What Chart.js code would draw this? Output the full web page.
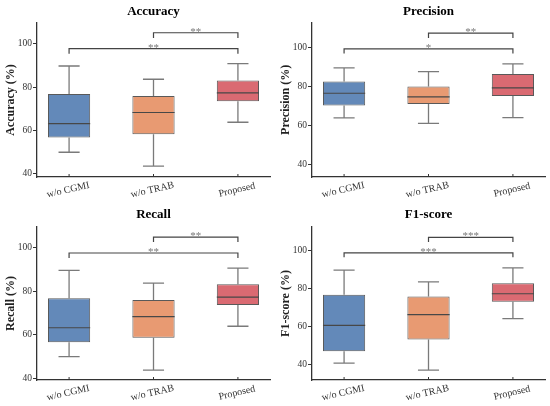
<!DOCTYPE html>
<html>
<head>
<meta charset="utf-8">
<script src="https://cdn.jsdelivr.net/npm/chart.js@4"></script>
<style>
  html, body { margin: 0; padding: 0; background: #fff; }
  #grid { width: 550px; height: 406px; display: grid; grid-template-columns: 275px 275px; grid-template-rows: 203px 203px; }
  canvas { display: block; }
</style>
</head>
<body>
<div id="grid">
  <canvas id="chartAccuracy" width="275" height="203"></canvas>
  <canvas id="chartPrecision" width="275" height="203"></canvas>
  <canvas id="chartRecall" width="275" height="203"></canvas>
  <canvas id="chartF1" width="275" height="203"></canvas>
</div>
<script>
// box stats per model: [min, q1, median, q3, max]
const categories = ["w/o CGMI", "w/o TRAB", "Proposed"];
const accuracyStats = [[50.0, 56.8, 63.2, 76.8, 89.7], [43.6, 58.3, 68.3, 75.9, 83.6], [63.8, 73.5, 77.3, 83.0, 90.8]];
const precisionStats = [[63.8, 70.2, 76.5, 82.5, 89.5], [61.0, 71.0, 74.6, 80.0, 87.6], [64.0, 75.1, 79.2, 86.4, 91.6]];
const recallStats = [[50.0, 56.6, 63.2, 76.7, 89.5], [43.8, 58.6, 68.3, 75.9, 83.6], [63.9, 73.6, 77.2, 83.1, 90.5]];
const f1Stats = [[40.5, 46.8, 60.5, 76.7, 89.7], [36.8, 53.0, 66.2, 75.8, 83.5], [64.0, 73.0, 77.2, 82.8, 90.9]];
// significance: [w/o CGMI vs Proposed, w/o TRAB vs Proposed]
const accuracyStars = ["**", "**"];
const precisionStars = ["*", "**"];
const recallStars = ["**", "**"];
const f1Stars = ["***", "***"];
const yTicks = [40, 60, 80, 100];

const boxColors = ["#6389b9", "#e89a72", "#da6a72"];
const serif = "'Liberation Serif', 'Times New Roman', serif";

function makeExtras(panel) {
    return {
        id: "boxExtras",
        beforeDatasetsDraw(chart) {
            const { ctx, scales: { x, y } } = chart;
            const meta = chart.getDatasetMeta(0);
            ctx.save();
            ctx.strokeStyle = "#7a7a7a";
            ctx.lineWidth = 1.3;
            panel.stats.forEach((s, i) => {
                const { width } = meta.data[i].getProps(["width"], true);
                const cx = x.getPixelForValue(i);
                const cap = width / 4;
                ctx.beginPath();
                ctx.moveTo(cx, y.getPixelForValue(s[4]));
                ctx.lineTo(cx, y.getPixelForValue(s[3]));
                ctx.moveTo(cx, y.getPixelForValue(s[1]));
                ctx.lineTo(cx, y.getPixelForValue(s[0]));
                ctx.moveTo(cx - cap, y.getPixelForValue(s[4]));
                ctx.lineTo(cx + cap, y.getPixelForValue(s[4]));
                ctx.moveTo(cx - cap, y.getPixelForValue(s[0]));
                ctx.lineTo(cx + cap, y.getPixelForValue(s[0]));
                ctx.stroke();
            });
            ctx.restore();
        },
        afterDatasetsDraw(chart) {
            const { ctx, chartArea, scales: { x, y } } = chart;
            const meta = chart.getDatasetMeta(0);
            ctx.save();
            // medians
            ctx.strokeStyle = "#474747";
            ctx.lineWidth = 1.2;
            panel.stats.forEach((s, i) => {
                const { width } = meta.data[i].getProps(["width"], true);
                const cx = x.getPixelForValue(i);
                const my = y.getPixelForValue(s[2]);
                ctx.beginPath();
                ctx.moveTo(cx - width / 2, my);
                ctx.lineTo(cx + width / 2, my);
                ctx.stroke();
            });
            // inward x tick marks
            ctx.strokeStyle = "#333";
            ctx.lineWidth = 1;
            categories.forEach((c, i) => {
                const cx = x.getPixelForValue(i);
                ctx.beginPath();
                ctx.moveTo(cx, chartArea.bottom);
                ctx.lineTo(cx, chartArea.bottom - 3);
                ctx.stroke();
            });
            // significance brackets
            const pairs = [[0, 2, panel.brackets[0]], [1, 2, panel.brackets[1]]];
            pairs.forEach(([a, b, lv], k) => {
                const xa = x.getPixelForValue(a);
                const xb = x.getPixelForValue(b);
                const yl = y.getPixelForValue(lv[0]);
                const yd = y.getPixelForValue(lv[1]);
                ctx.strokeStyle = "#444";
                ctx.lineWidth = 1.2;
                ctx.beginPath();
                ctx.moveTo(xa, yd);
                ctx.lineTo(xa, yl);
                ctx.lineTo(xb, yl);
                ctx.lineTo(xb, yd);
                ctx.stroke();
                ctx.fillStyle = "#777";
                ctx.font = "11px " + serif;
                ctx.textAlign = "center";
                ctx.textBaseline = "alphabetic";
                ctx.fillText(panel.stars[k], (xa + xb) / 2, yl + 2);
            });
            // rotated category labels
            ctx.fillStyle = "#333";
            ctx.font = "10px " + serif;
            ctx.textAlign = "center";
            ctx.textBaseline = "middle";
            categories.forEach((c, i) => {
                const cx = x.getPixelForValue(i);
                ctx.save();
                ctx.translate(cx - 1, chartArea.bottom + 13);
                ctx.rotate(-13 * Math.PI / 180);
                ctx.fillText(c, 0, 0);
                ctx.restore();
            });
            ctx.restore();
        },
    };
}

function initBoxChart(canvasId, panel) {
    const el = document.getElementById(canvasId);
    if (!el) return;

    new Chart(el, {
        type: "bar",
        data: {
            datasets: [{
                data: panel.stats.map((s, i) => ({ x: i, y: [s[1], s[3]] })),
                backgroundColor: boxColors,
                borderColor: "#595959",
                borderWidth: 1,
                borderSkipped: false,
                barPercentage: 0.5,
                categoryPercentage: 1,
            }],
        },
        options: {
            responsive: false,
            animation: false,
            layout: { padding: { left: 0, right: 5, top: 0, bottom: 0 } },
            plugins: {
                legend: { display: false },
                tooltip: { enabled: false },
                title: {
                    display: true,
                    fullSize: false,
                    text: panel.title,
                    color: "#000",
                    font: { family: serif, size: 13, weight: "bold" },
                    padding: { top: 4, bottom: panel.titleGap },
                },
            },
            scales: {
                x: {
                    type: "linear",
                    offset: false,
                    min: -0.38,
                    max: 2.38,
                    afterBuildTicks: (scale) => { scale.ticks = categories.map((c, i) => ({ value: i })); },
                    afterFit: (scale) => { scale.height = 26; },
                    ticks: { display: false },
                    grid: { display: false, offset: false },
                    border: { display: true, color: "#333", width: 1.3 },
                },
                y: {
                    min: panel.yMin,
                    max: panel.yMax,
                    afterBuildTicks: (scale) => { scale.ticks = yTicks.map((v) => ({ value: v })); },
                    afterFit: (scale) => { scale.width = 37; },
                    ticks: {
                        color: "#333",
                        padding: 1,
                        font: { family: serif, size: 9.5 },
                    },
                    grid: { drawOnChartArea: false, drawTicks: true, tickLength: 4, color: "#333" },
                    border: { display: true, color: "#333", width: 1.3 },
                    title: {
                        display: true,
                        text: panel.yLabel,
                        color: "#222",
                        font: { family: serif, size: 12, weight: "bold" },
                        padding: { top: 4, bottom: 0 },
                    },
                },
            },
        },
        plugins: [makeExtras(panel)],
    });
}

document.addEventListener("DOMContentLoaded", () => {
    initBoxChart("chartAccuracy", {
        title: "Accuracy", yLabel: "Accuracy (%)", stats: accuracyStats, stars: accuracyStars,
        yMin: 38.6, yMax: 109.5, titleGap: 3.4, brackets: [[97.7, 95.4], [105.0, 102.6]],
    });
    initBoxChart("chartPrecision", {
        title: "Precision", yLabel: "Precision (%)", stats: precisionStats, stars: precisionStars,
        yMin: 33.5, yMax: 112.7, titleGap: 3.1, brackets: [[99.3, 96.9], [107.4, 104.9]],
    });
    initBoxChart("chartRecall", {
        title: "Recall", yLabel: "Recall (%)", stats: recallStats, stars: recallStars,
        yMin: 39.3, yMax: 109.3, titleGap: 4.4, brackets: [[97.4, 95.1], [104.7, 102.4]],
    });
    initBoxChart("chartF1", {
        title: "F1-score", yLabel: "F1-score (%)", stats: f1Stats, stars: f1Stars,
        yMin: 31.6, yMax: 112.5, titleGap: 4.4, brackets: [[98.8, 96.5], [107.0, 104.6]],
    });
});
</script>
</body>
</html>
